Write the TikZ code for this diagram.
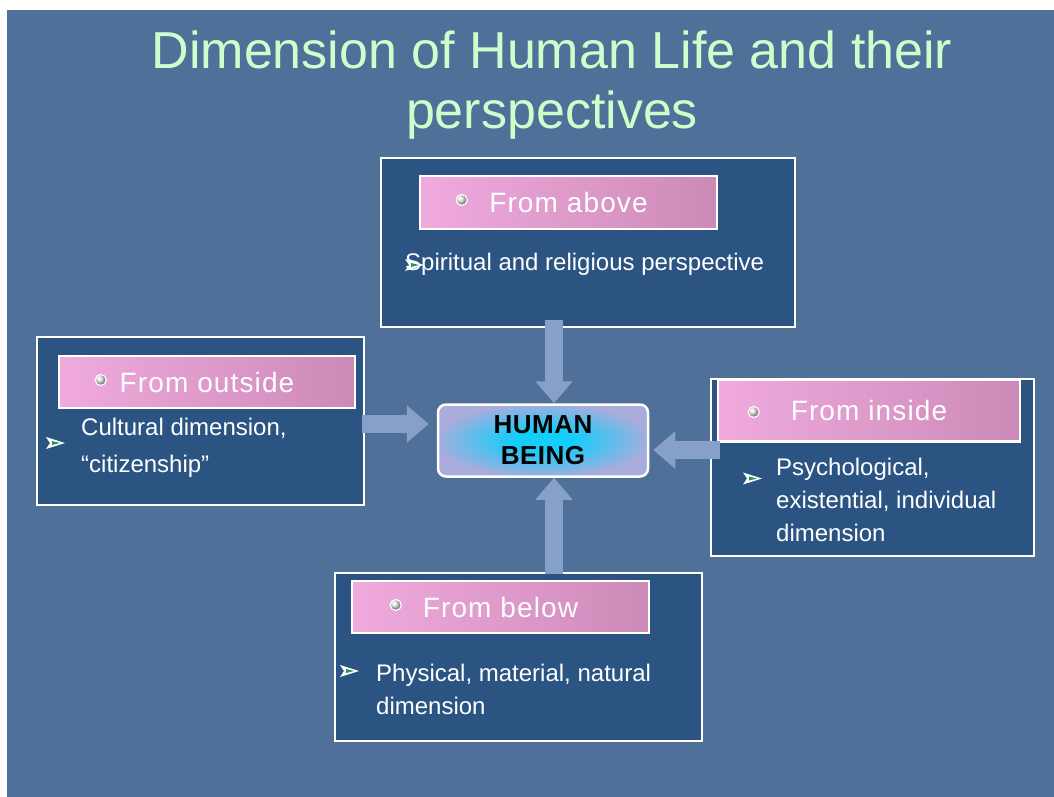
\documentclass[tikz,border=0pt]{standalone}
\usepackage{fontspec}
\setmainfont{Liberation Sans}
\newfontfamily\lblfont[LetterSpace=4]{Liberation Sans}
\newfontfamily\hbfont[LetterSpace=2]{Liberation Sans}
\usetikzlibrary{arrows.meta,calc}

\definecolor{slideblue}{RGB}{78,112,153}
\definecolor{boxblue}{RGB}{43,84,130}
\definecolor{arrowblue}{RGB}{135,160,202}
\definecolor{pinkleft}{RGB}{240,170,222}
\definecolor{pinkright}{RGB}{204,138,184}
\definecolor{titlegreen}{RGB}{204,255,204}
\definecolor{hblav}{RGB}{170,172,220}
\definecolor{hbcyan}{RGB}{20,205,250}
\definecolor{flaggreen}{RGB}{40,150,90}

\pgfdeclareradialshading{hbglow}{\pgfpoint{0bp}{0bp}}{color(0bp)=(hbcyan); color(7bp)=(hbcyan); color(26bp)=(hblav); color(50bp)=(hblav)}

% small bullet marks of the slide
\newcommand{\ballmark}[1]{\shade[ball color=gray!20,draw=white,line width=1.2pt] (#1) circle (5.5pt);}
\newcommand{\flagmark}[1]{%
  \fill[white] ($(#1)+(0,-6)$) -- ++(19,6) -- ++(-19,6) -- ++(4,-6) -- cycle;
  \fill[flaggreen] ($(#1)+(6,-2)$) -- ++(8,2) -- ++(-8,2) -- cycle;}

\begin{document}
\begin{tikzpicture}[x=1pt,y=-1pt,
    dimbox/.style={draw=white,line width=2pt,fill=boxblue,inner sep=0pt},
    lbl/.style={draw=white,line width=2.5pt,left color=pinkleft,right color=pinkright,
      text=white,inner sep=0pt,font=\lblfont\fontsize{28}{32}\selectfont},
    bodytxt/.style={text=white,align=left,anchor=west,inner sep=0pt,
      font=\fontsize{24}{33}\selectfont},
    harrow/.style={draw=arrowblue,line width=18pt,-{Triangle[width=36pt,length=22pt]}}]
  \useasboundingbox (0,0) rectangle (1054,797);
  \fill[white] (0,0) rectangle (1054,797);
  \fill[slideblue] (7,10) rectangle (1054,797);

  \node[text=titlegreen,align=center,anchor=north,inner sep=0pt,
    font=\fontsize{52}{60}\selectfont] (title) at (552,31)
    {Dimension of Human Life and their\\perspectives};

  % the four perspectives
  \node[dimbox,minimum width=414pt,minimum height=169pt] (above) at (588,242.5) {};
  \node[dimbox,minimum width=327pt,minimum height=168pt] (outside) at (200.5,421) {};
  \node[dimbox,minimum width=323pt,minimum height=177pt] (inside) at (872.5,467.5) {};
  \node[dimbox,minimum width=367pt,minimum height=168pt] (below) at (518.5,657) {};

  \node[lbl,minimum width=297pt,minimum height=53pt] (lblabove) at (568.5,202.5) {From above};
  \node[lbl,minimum width=296pt,minimum height=52pt] (lbloutside) at (207,382) {From outside};
  \node[lbl,minimum width=302pt,minimum height=62pt] (lblinside) at (869,410.5) {From inside};
  \node[lbl,minimum width=297pt,minimum height=52pt] (lblbelow) at (500.5,607) {From below};

  \ballmark{$(lblabove.west)+(43,-2.5)$}
  \ballmark{$(lbloutside.west)+(43,-2)$}
  \ballmark{$(lblinside.west)+(37,1.5)$}
  \ballmark{$(lblbelow.west)+(45,-2)$}

  \node[bodytxt] (txtabove) at (405,264) {Spiritual and religious perspective};
  \node[bodytxt,font=\fontsize{24}{37}\selectfont] (txtoutside) at (81,447.5)
    {Cultural dimension,\\“citizenship”};
  \node[bodytxt] (txtinside) at (776,499.5)
    {Psychological,\\existential, individual\\dimension};
  \node[bodytxt] (txtbelow) at (376,689) {Physical, material, natural\\dimension};

  \flagmark{405,265}
  \flagmark{46,443}
  \flagmark{743,478.5}
  \flagmark{340,671}

  % centre
  \node[draw=white,line width=2.5pt,rounded corners=8pt,shading=hbglow,
    minimum width=210pt,minimum height=72pt,align=center,inner sep=0pt,
    font=\hbfont\bfseries\fontsize{26}{31}\selectfont,text=black] (human) at (543,440.5) {HUMAN\\BEING};

  \coordinate (hn) at ($(human.north)+(11,0)$);
  \coordinate (hs) at ($(human.south)+(11,0)$);
  \coordinate (oa) at ($(outside.east)+(-3,3)$);
  \coordinate (ia) at ($(inside.west)+(10,-17.5)$);
  \draw[harrow] ($(hn |- above.south)+(0,-8)$) -- (hn);
  \draw[harrow] (oa) -- ($(human.west |- oa)+(-8,0)$);
  \draw[harrow] (ia) -- ($(human.east |- ia)+(4,0)$);
  \draw[harrow] ($(hs |- below.north)+(0,2)$) -- (hs);
\end{tikzpicture}
\end{document}
